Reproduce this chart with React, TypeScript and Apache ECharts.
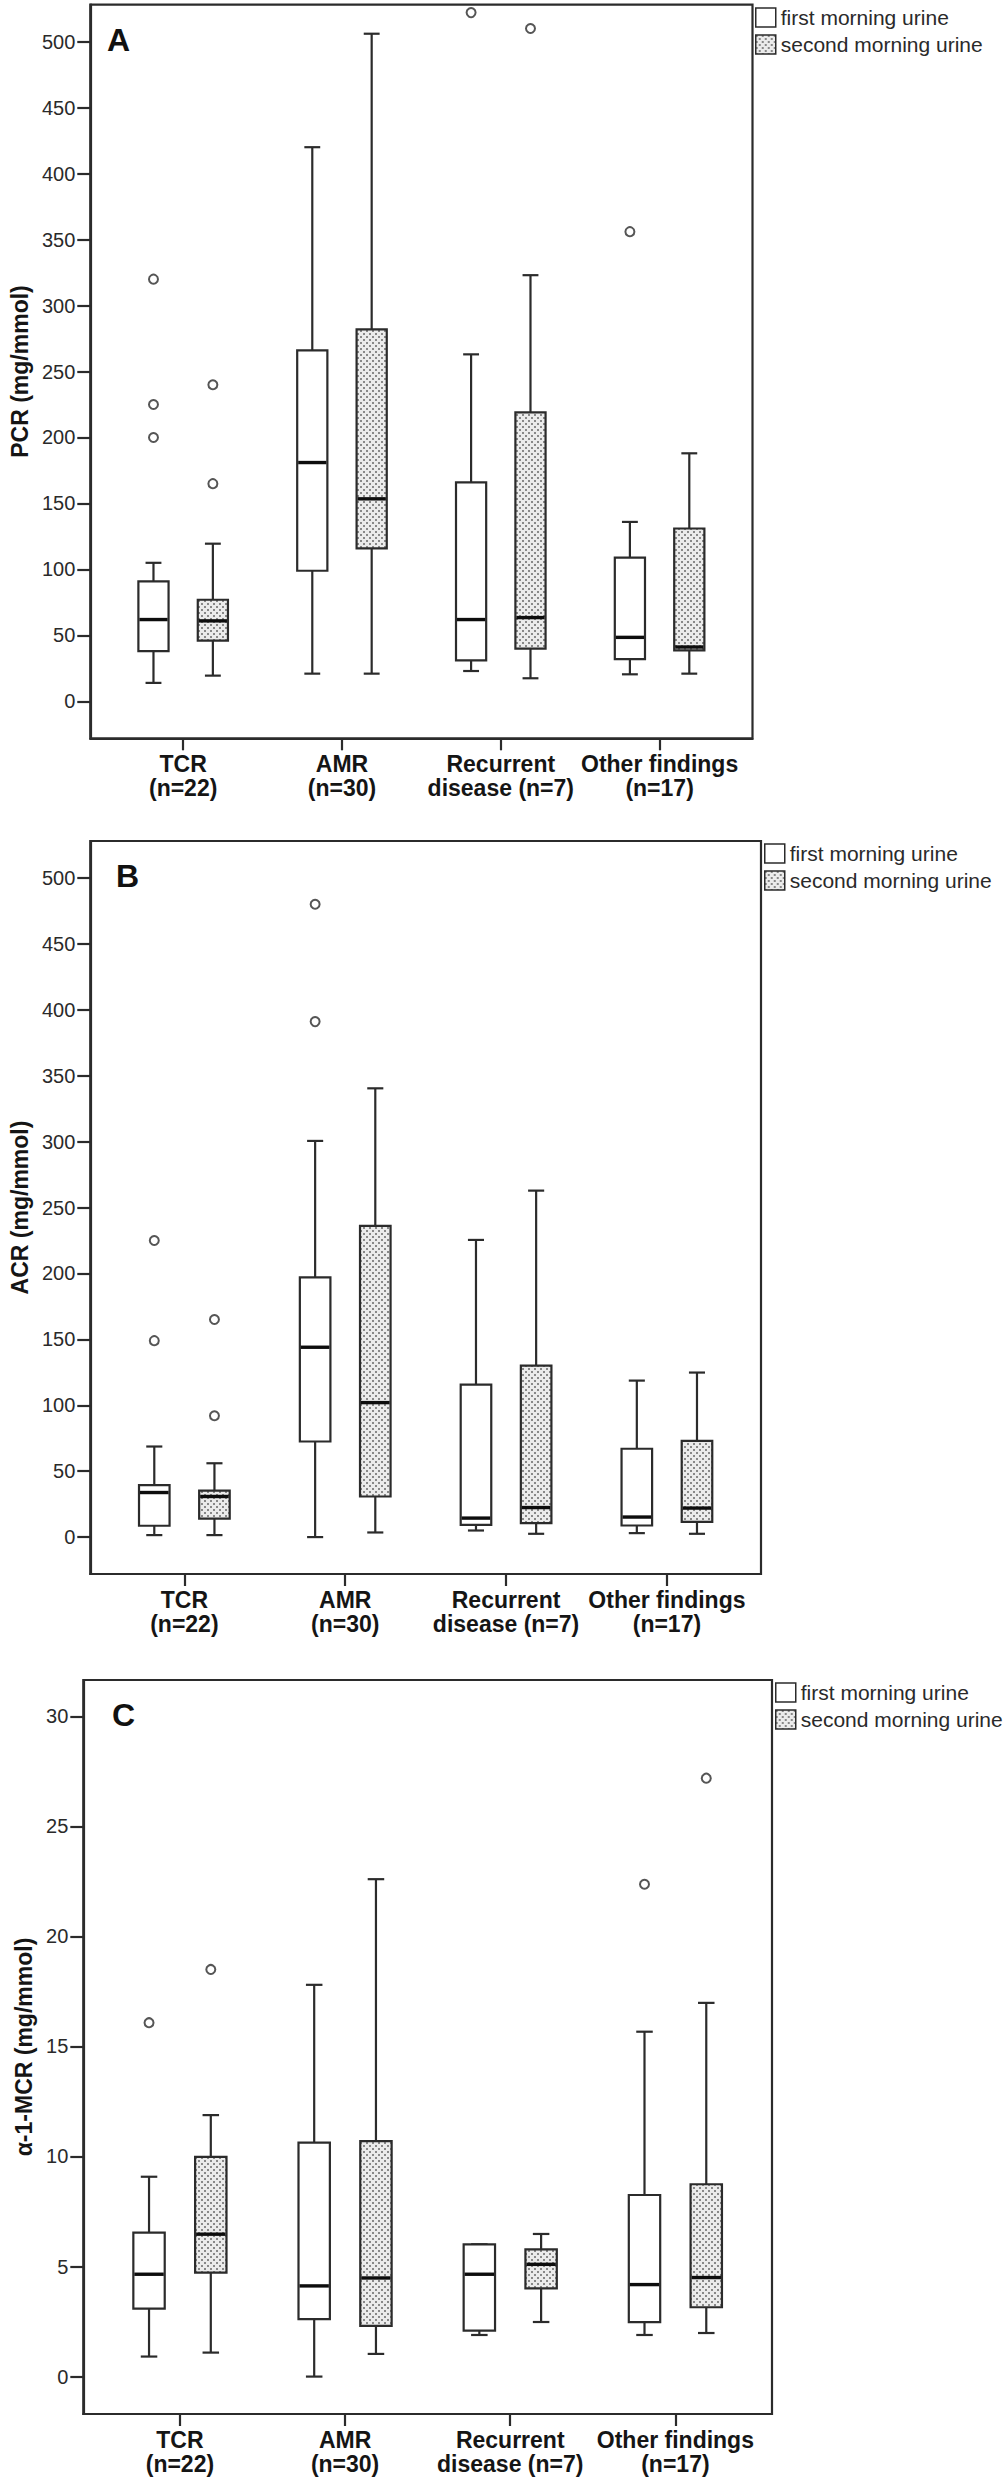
import React, { useEffect, useRef } from 'react';
import * as echarts from 'echarts';

// ---------- data ----------
const categories = ['TCR\n(n=22)', 'AMR\n(n=30)', 'Recurrent\ndisease (n=7)', 'Other findings\n(n=17)'];
const categoryTicks = [0, 1, 2, 3];

// [min whisker, Q1, median, Q3, max whisker] per category
const pcrFirst = [[14, 38, 62, 91, 105], [21, 99, 181, 266, 420], [23, 31, 62, 166, 263], [20.5, 32, 48.5, 109, 136]];
const pcrSecond = [[19.5, 46, 61, 77, 119.5], [21, 116, 153.5, 282, 506], [17.5, 40, 63.5, 219, 323], [21, 38.6, 41.2, 131, 188]];
// [category index, value]
const pcrOutFirst = [[0, 320], [0, 225], [0, 200], [1, 530], [2, 522], [3, 356]];
const pcrOutSecond = [[0, 240], [0, 165], [2, 510]];

const acrFirst = [[1.5, 8.6, 33.8, 39.4, 68.7], [0, 72.5, 144, 197, 300.5], [5, 9.3, 14.4, 115.7, 225.4], [3, 8.8, 15.2, 67, 118.7]];
const acrSecond = [[1.5, 14, 30.8, 35.3, 56], [3.5, 30.8, 102, 236, 340.4], [2.5, 10.6, 22.4, 130, 262.8], [2.5, 11.6, 22, 73, 124.8]];
const acrOutFirst = [[0, 225], [0, 149], [1, 480], [1, 391]];
const acrOutSecond = [[0, 165], [0, 92]];

const mcrFirst = [[0.91, 3.09, 4.65, 6.54, 9.08], [0, 2.61, 4.12, 10.63, 17.8], [1.89, 2.09, 4.65, 6.01, 6.01], [1.89, 2.47, 4.18, 8.25, 15.67]];
const mcrSecond = [[1.09, 4.72, 6.47, 9.98, 11.88], [1.03, 2.3, 4.48, 10.7, 22.6], [2.48, 4.01, 5.1, 5.78, 6.48], [1.98, 3.15, 4.5, 8.74, 16.98]];
const mcrOutFirst = [[0, 16.08], [3, 22.37]];
const mcrOutSecond = [[0, 18.5], [3, 27.19]];

const ticksPcr = [0, 50, 100, 150, 200, 250, 300, 350, 400, 450, 500];
const ticksAcr = [0, 50, 100, 150, 200, 250, 300, 350, 400, 450, 500];
const ticksMcr = [0, 5, 10, 15, 20, 25, 30];

const FIRST = 'first morning urine';
const SECOND = 'second morning urine';

// ---------- layout / style ----------
const FONT = 'Liberation Sans, Arial, Helvetica, sans-serif';
const LINE = '#2b2b2b';
const OFF = 0.187;
const BOX_W = 0.19;
const CAP_W = 0.1;
const X_MIN = -0.585;
const X_MAX = 3.585;

const panels = [
  {
    grid: { left: 77.7, top: 4.7, width: 674.8, height: 733.6 },
    yMin: -28, yMax: 528, ticks: ticksPcr, yName: 'PCR (mg/mmol)', nameGap: 53,
    letter: 'A', letterPos: [107, 24], legendPos: [755, 7],
    first: pcrFirst, second: pcrSecond, outFirst: pcrOutFirst, outSecond: pcrOutSecond,
  },
  {
    grid: { left: 84.3, top: 841, width: 676.7, height: 733 },
    yMin: -28, yMax: 528, ticks: ticksAcr, yName: 'ACR (mg/mmol)', nameGap: 52,
    letter: 'B', letterPos: [116, 860], legendPos: [764, 843],
    first: acrFirst, second: acrSecond, outFirst: acrOutFirst, outSecond: acrOutSecond,
  },
  {
    grid: { left: 83.3, top: 1680, width: 688.7, height: 734 },
    yMin: -1.7, yMax: 31.65, ticks: ticksMcr, yName: 'α-1-MCR (mg/mmol)', nameGap: 42,
    letter: 'C', letterPos: [112, 1699], legendPos: [775, 1682],
    first: mcrFirst, second: mcrSecond, outFirst: mcrOutFirst, outSecond: mcrOutSecond,
  },
];

function makePatternCanvas() {
  const c = document.createElement('canvas');
  c.width = 6;
  c.height = 6;
  const ctx = c.getContext('2d');
  if (ctx) {
    ctx.fillStyle = '#ebebeb';
    ctx.fillRect(0, 0, 6, 6);
    ctx.fillStyle = '#888888';
    ctx.fillRect(0, 0, 2, 2);
    ctx.fillRect(3, 3, 2, 2);
  }
  return c;
}

function makeRender(off: number, fill: any) {
  return (params: any, api: any) => {
    const x = api.value(0) + off;
    const lo = api.coord([x, api.value(1)]);
    const q1 = api.coord([x, api.value(2)]);
    const md = api.coord([x, api.value(3)]);
    const q3 = api.coord([x, api.value(4)]);
    const hi = api.coord([x, api.value(5)]);
    const cx = lo[0];
    const half = (api.coord([x + BOX_W / 2, 0])[0] - api.coord([x - BOX_W / 2, 0])[0]) / 2;
    const capHalf = (api.coord([x + CAP_W / 2, 0])[0] - api.coord([x - CAP_W / 2, 0])[0]) / 2;
    const st = { stroke: LINE, lineWidth: 2.2 };
    return {
      type: 'group',
      children: [
        { type: 'line', shape: { x1: cx, y1: q3[1], x2: cx, y2: hi[1] }, style: st },
        { type: 'line', shape: { x1: cx, y1: lo[1], x2: cx, y2: q1[1] }, style: st },
        { type: 'line', shape: { x1: cx - capHalf, y1: hi[1], x2: cx + capHalf, y2: hi[1] }, style: st },
        { type: 'line', shape: { x1: cx - capHalf, y1: lo[1], x2: cx + capHalf, y2: lo[1] }, style: st },
        {
          type: 'rect',
          shape: { x: cx - half, y: q3[1], width: 2 * half, height: q1[1] - q3[1] },
          style: { fill, stroke: LINE, lineWidth: 2.2 },
        },
        { type: 'line', shape: { x1: cx - half + 1, y1: md[1], x2: cx + half - 1, y2: md[1] }, style: { stroke: '#0d0d0d', lineWidth: 3.4 } },
      ],
    };
  };
}

function buildOption() {
  const patternFill = { image: makePatternCanvas(), repeat: 'repeat' };
  const grid: any[] = [];
  const xAxis: any[] = [];
  const yAxis: any[] = [];
  const series: any[] = [];
  const legend: any[] = [];
  const title: any[] = [];

  panels.forEach((p, i) => {
    grid.push({ ...p.grid, show: true, borderColor: LINE, borderWidth: 2.2, backgroundColor: 'transparent' });
    xAxis.push({
      gridIndex: i,
      type: 'value',
      min: X_MIN,
      max: X_MAX,
      splitLine: { show: false },
      axisLine: { show: true, onZero: false, lineStyle: { color: LINE, width: 2.2 } },
      axisTick: { show: true, length: 12, customValues: categoryTicks, lineStyle: { color: LINE, width: 2.2 } },
      axisLabel: {
        customValues: categoryTicks,
        formatter: (v: number) => categories[Math.round(v)] ?? '',
        fontFamily: FONT,
        fontWeight: 'bold',
        fontSize: 23,
        lineHeight: 24,
        color: '#151515',
        margin: 14,
      },
    });
    yAxis.push({
      gridIndex: i,
      type: 'value',
      min: p.yMin,
      max: p.yMax,
      name: p.yName,
      nameLocation: 'middle',
      nameGap: p.nameGap,
      nameRotate: 90,
      nameTextStyle: { fontFamily: FONT, fontWeight: 'bold', fontSize: 23, color: '#151515' },
      splitLine: { show: false },
      axisLine: { show: true, onZero: false, lineStyle: { color: LINE, width: 2.2 } },
      axisTick: { show: true, length: 13, customValues: p.ticks, lineStyle: { color: LINE, width: 2.2 } },
      axisLabel: { customValues: p.ticks, fontFamily: FONT, fontSize: 20, color: '#2a2a2a', margin: 15 },
    });

    const toBox = (arr: number[][]) => arr.map((v, k) => [k, ...v]);
    series.push({
      name: FIRST,
      type: 'custom',
      xAxisIndex: i,
      yAxisIndex: i,
      renderItem: makeRender(-OFF, '#ffffff'),
      encode: { x: 0, y: [1, 2, 3, 4, 5] },
      data: toBox(p.first),
      itemStyle: { color: '#ffffff', borderColor: LINE },
      z: 3,
    });
    series.push({
      name: SECOND,
      type: 'custom',
      xAxisIndex: i,
      yAxisIndex: i,
      renderItem: makeRender(OFF, patternFill),
      encode: { x: 0, y: [1, 2, 3, 4, 5] },
      data: toBox(p.second),
      itemStyle: { color: '#dddddd', borderColor: LINE },
      z: 3,
    });
    const outStyle = { color: '#ffffff', borderColor: LINE, borderWidth: 2 };
    series.push({
      name: 'outliers-first-' + i,
      type: 'scatter',
      xAxisIndex: i,
      yAxisIndex: i,
      symbol: 'circle',
      symbolSize: 9,
      itemStyle: outStyle,
      data: p.outFirst.map(([c, v]) => [c - OFF, v]),
      z: 4,
    });
    series.push({
      name: 'outliers-second-' + i,
      type: 'scatter',
      xAxisIndex: i,
      yAxisIndex: i,
      symbol: 'circle',
      symbolSize: 9,
      itemStyle: outStyle,
      data: p.outSecond.map(([c, v]) => [c + OFF, v]),
      z: 4,
    });

    legend.push({
      left: p.legendPos[0],
      top: p.legendPos[1],
      orient: 'vertical',
      padding: 0,
      itemWidth: 20,
      itemHeight: 19,
      itemGap: 6,
      selectedMode: false,
      textStyle: { fontFamily: FONT, fontSize: 21, color: '#2a2a2a', lineHeight: 19 },
      data: [
        { name: FIRST, icon: 'rect', itemStyle: { color: '#ffffff', borderColor: LINE, borderWidth: 1.5 } },
        { name: SECOND, icon: 'rect', itemStyle: { color: patternFill, borderColor: LINE, borderWidth: 1.5 } },
      ],
    });

    title.push({
      text: p.letter,
      left: p.letterPos[0],
      top: p.letterPos[1],
      padding: 0,
      textStyle: { fontFamily: FONT, fontWeight: 'bold', fontSize: 32, color: '#111' },
    });
  });

  return {
    animation: false,
    backgroundColor: '#ffffff',
    title,
    legend,
    grid,
    xAxis,
    yAxis,
    series,
  };
}

export default function App() {
  const ref = useRef<HTMLDivElement>(null);
  useEffect(() => {
    if (!ref.current) return;
    const chart = echarts.init(ref.current, undefined, { renderer: 'svg' });
    chart.setOption(buildOption() as any);
    return () => chart.dispose();
  }, []);
  return (
    <div
      ref={ref}
      style={{ position: 'absolute', left: 0, top: 0, width: 1003, height: 2481, background: '#fff' }}
    />
  );
}
